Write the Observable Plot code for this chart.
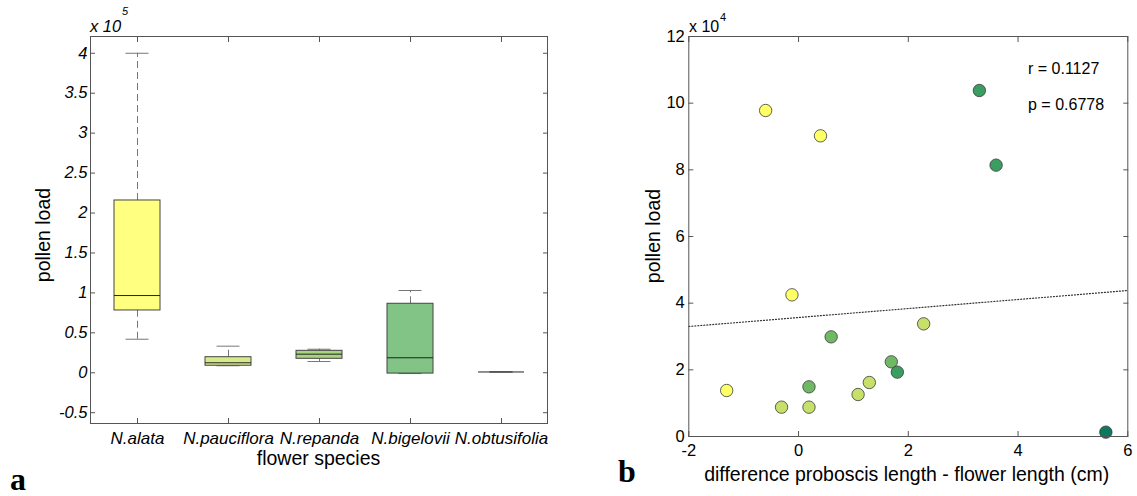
<!DOCTYPE html>
<html><head><meta charset="utf-8">
<script src="https://cdn.jsdelivr.net/npm/d3@7"></script>
<script src="https://cdn.jsdelivr.net/npm/@observablehq/plot@0.6"></script>
<style>
body{margin:0;background:#fff;}
#wrap{position:relative;width:1137px;height:496px;overflow:hidden;background:#fff;}
#wrap svg{position:absolute;top:0;overflow:visible;}
</style></head><body><div id="wrap"></div>
<script>
// ---- Panel a: box plot summary (units of 10^5) ----
const species = ["N.alata","N.pauciflora","N.repanda","N.bigelovii","N.obtusifolia"];
const boxFill = ["#ffff80","#d6ea8a","#a9d47f","#82c386","none"];
const whiskerLow = [0.42, 0.088, 0.141, -0.01, 0.01];
const q1 = [0.78, 0.088, 0.175, -0.01, 0.01];
const median = [0.967, 0.125, 0.233, 0.188, 0.01];
const q3 = [2.157, 0.195, 0.275, 0.864, 0.01];
const whiskerHigh = [4.0, 0.333, 0.295, 1.03, 0.01];
const yTicksA = [-0.5, 0, 0.5, 1, 1.5, 2, 2.5, 3, 3.5, 4];

// ---- Panel b: scatter (x in cm, y in units of 10^4) ----
const diffX = [-1.31, -0.60, -0.12, 0.40, -0.31, 0.19, 1.085, 1.29, 2.28, 0.19, 0.594, 1.69, 1.80, 3.295, 3.60, 5.60];
const loadY = [1.38, 9.78, 4.25, 9.02, 0.88, 0.88, 1.26, 1.62, 3.38, 1.49, 2.99, 2.24, 1.93, 10.38, 8.14, 0.13];
const group = ["N.alata","N.alata","N.alata","N.alata",
  "N.pauciflora","N.pauciflora","N.pauciflora","N.pauciflora","N.pauciflora",
  "N.repanda","N.repanda","N.repanda",
  "N.bigelovii","N.bigelovii","N.bigelovii","N.obtusifolia"];
const dotColors = ["#ffff66","#c6e06a","#6fb965","#3c9d62","#0b7a5f"];
const fitX = [-2, 6];
const fitY = [3.30, 4.38];
const xTicksB = [-2, 0, 2, 4, 6];
const yTicksB = [0, 2, 4, 6, 8, 10, 12];

const font = "'Liberation Sans', Arial, sans-serif";
const axisCol = "#555";

const boxes = species.map((s, i) => ({s, lo: whiskerLow[i], q1: q1[i], med: median[i], q3: q3[i], hi: whiskerHigh[i], fill: boxFill[i]}));

const plotA = Plot.plot({
  width: 580, height: 496,
  marginLeft: 90, marginRight: 33, marginTop: 36, marginBottom: 73,
  style: {fontFamily: font, background: "transparent", color: "#000"},
  x: {domain: species, paddingInner: 0.5, paddingOuter: 0.25},
  y: {domain: [-0.635, 4.21]},
  marks: [
    Plot.ruleX(boxes, {x: "s", y1: "q3", y2: "hi", stroke: "#777", strokeDasharray: "7,4"}),
    Plot.ruleX(boxes, {x: "s", y1: "lo", y2: "q1", stroke: "#777", strokeDasharray: "7,4"}),
    Plot.tickY(boxes, {x: "s", y: "hi", stroke: "#777", inset: 11.5}),
    Plot.tickY(boxes, {x: "s", y: "lo", stroke: "#777", inset: 11.5}),
    Plot.barY(boxes, {x: "s", y1: "q1", y2: "q3", fill: "fill", stroke: "#444", strokeWidth: 1}),
    Plot.tickY(boxes, {x: "s", y: "med", stroke: "#222", strokeWidth: 1}),
    Plot.frame({stroke: axisCol}),
    Plot.axisY({ticks: yTicksA, anchor: "left", tickSize: -5, tickPadding: 8, tickFormat: d => String(d),
      fontSize: 16.5, fontStyle: "italic", stroke: axisCol, fill: "#000", label: null}),
    Plot.axisY({ticks: yTicksA, anchor: "right", tickSize: -5, tickFormat: () => "", stroke: axisCol, label: null}),
    Plot.axisX({anchor: "bottom", tickSize: -5, tickPadding: 13, fontSize: 17, fontStyle: "italic",
      stroke: axisCol, fill: "#000", label: null}),
    Plot.axisX({anchor: "top", tickSize: -5, tickFormat: () => "", stroke: axisCol, label: null})
  ]
});

const pts = diffX.map((x, i) => ({x, y: loadY[i], g: group[i]}));
const fit = fitX.map((x, i) => ({x, y: fitY[i]}));

const plotB = Plot.plot({
  width: 557, height: 496,
  marginLeft: 108.3, marginRight: 9.7, marginTop: 36, marginBottom: 60,
  style: {fontFamily: font, background: "transparent", color: "#000"},
  x: {domain: [-2, 6]},
  y: {domain: [0, 12]},
  color: {domain: species, range: dotColors},
  marks: [
    Plot.line(fit, {x: "x", y: "y", stroke: "#333", strokeWidth: 1.2, strokeDasharray: "1,2"}),
    Plot.dot(pts, {x: "x", y: "y", fill: "g", r: 6.2, stroke: "#3a3a3a", strokeWidth: 0.8}),
    Plot.frame({stroke: axisCol}),
    Plot.axisY({ticks: yTicksB, anchor: "left", tickSize: -5, tickPadding: 9, tickFormat: d => String(d),
      fontSize: 16.5, stroke: axisCol, fill: "#000", label: null}),
    Plot.axisY({ticks: yTicksB, anchor: "right", tickSize: -5, tickFormat: () => "", stroke: axisCol, label: null}),
    Plot.axisX({ticks: xTicksB, anchor: "bottom", tickSize: -5, tickPadding: 12.5, tickFormat: d => String(d),
      fontSize: 16.5, stroke: axisCol, fill: "#000", label: null}),
    Plot.axisX({ticks: xTicksB, anchor: "top", tickSize: -5, tickFormat: () => "", stroke: axisCol, label: null})
  ]
});

const wrap = document.getElementById("wrap");
plotA.style.left = "0px";
plotB.style.left = "580px";
wrap.appendChild(plotA);
wrap.appendChild(plotB);

function addText(svg, x, y, str, opts = {}) {
  const t = d3.select(svg).append("text")
    .attr("x", x).attr("y", y).text(str)
    .attr("font-family", opts.family || font)
    .attr("font-size", opts.size || 16)
    .attr("fill", "#000")
    .attr("text-anchor", opts.anchor || "start");
  if (opts.italic) t.attr("font-style", "italic");
  if (opts.bold) t.attr("font-weight", "bold");
  if (opts.rotate) t.attr("transform", `rotate(${opts.rotate},${x},${y})`);
  return t;
}

// Panel a annotations (svg starts at page x = 0)
addText(plotA, 90, 32, "x 10", {size: 16.5, italic: true});
addText(plotA, 122, 15, "5", {size: 11, italic: true});
addText(plotA, 50, 235, "pollen load", {size: 19.5, anchor: "middle", rotate: -90});
addText(plotA, 318.5, 465, "flower species", {size: 19.5, anchor: "middle"});
addText(plotA, 10, 490, "a", {size: 32, bold: true, family: "'Liberation Serif', 'Times New Roman', serif"});

// Panel b annotations (svg starts at page x = 580)
const ox = 580;
addText(plotB, 689 - ox, 32, "x 10", {size: 16});
addText(plotB, 720 - ox, 21, "4", {size: 11});
addText(plotB, 660 - ox, 236, "pollen load", {size: 19.5, anchor: "middle", rotate: -90});
addText(plotB, 906.7 - ox, 481, "difference proboscis length - flower length (cm)", {size: 19.5, anchor: "middle"});
addText(plotB, 1028 - ox, 74, "r = 0.1127", {size: 16});
addText(plotB, 1028 - ox, 110, "p = 0.6778", {size: 16});
addText(plotB, 618 - ox, 482, "b", {size: 32, bold: true, family: "'Liberation Serif', 'Times New Roman', serif"});
</script></body></html>
